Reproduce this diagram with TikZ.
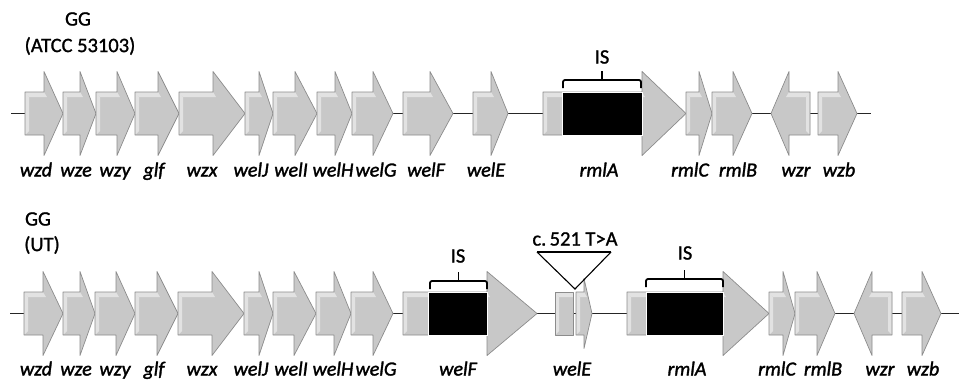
\documentclass[tikz,border=0pt]{standalone}
\usepackage{fontspec}
\setmainfont{Carlito}
\newfontfamily\genefont{Carlito}[ItalicFeatures={FakeBold=1.6}]
\newfontfamily\headfont{Carlito}[FakeBold=1.2]
\begin{document}
\begin{tikzpicture}[x=1pt,y=-1pt,
  genebody/.style={fill=genegray},
  genelight/.style={fill=genehi},
  geneedge/.style={draw=geneline,line width=0.7pt,line join=round},
  backbone/.style={draw=black!85,line width=1.4pt},
  genelabel/.style={font=\genefont\fontsize{20}{22}\selectfont\itshape,inner sep=0pt,anchor=base},
  headlabel/.style={font=\headfont\fontsize{20.5}{24}\selectfont,inner sep=0pt},
  bracketline/.style={draw=black,line width=1.8pt,rounded corners=2pt},
  insertbox/.style={fill=black,draw=white,line width=0.6pt}]
\definecolor{genegray}{HTML}{C8C8C8}
\definecolor{genehi}{HTML}{E2E2E2}
\definecolor{geneline}{HTML}{8C8C8C}
\def\geneB{21.5}
\def\geneH{42}
% forward gene: start, head base, tip, centre line
\newcommand\fgene[4]{%
  \fill[genebody] (#1,#4-\geneB) -- (#2,#4-\geneB) -- (#2,#4-\geneH) -- (#3,#4)
    -- (#2,#4+\geneH) -- (#2,#4+\geneB) -- (#1,#4+\geneB) -- cycle;
  \fill[genelight] (#1,#4-\geneB) -- (#2,#4-\geneB) -- (#2+3,#4-\geneB+5) -- (#1+4,#4-\geneB+5) -- cycle;
  \fill[genelight] (#1,#4-\geneB) -- (#1+4,#4-\geneB+5) -- (#1+4,#4+\geneB-4) -- (#1,#4+\geneB) -- cycle;
  \draw[geneedge] (#1,#4-\geneB) -- (#2,#4-\geneB) -- (#2,#4-\geneH) -- (#3,#4)
    -- (#2,#4+\geneH) -- (#2,#4+\geneB) -- (#1,#4+\geneB) -- cycle;}
% reverse gene: tip, head base, end, centre line
\newcommand\rgene[4]{%
  \fill[genebody] (#3,#4-\geneB) -- (#2,#4-\geneB) -- (#2,#4-\geneH) -- (#1,#4)
    -- (#2,#4+\geneH) -- (#2,#4+\geneB) -- (#3,#4+\geneB) -- cycle;
  \fill[genelight] (#3,#4-\geneB) -- (#2,#4-\geneB) -- (#2-3,#4-\geneB+5) -- (#3-4,#4-\geneB+5) -- cycle;
  \fill[genelight] (#3,#4-\geneB) -- (#3-4,#4-\geneB+5) -- (#3-4,#4+\geneB-4) -- (#3,#4+\geneB) -- cycle;
  \draw[geneedge] (#3,#4-\geneB) -- (#2,#4-\geneB) -- (#2,#4-\geneH) -- (#1,#4)
    -- (#2,#4+\geneH) -- (#2,#4+\geneB) -- (#3,#4+\geneB) -- cycle;}
% gene fragment without head
\newcommand\gbox[3]{%
  \fill[genebody] (#1,#3-\geneB) rectangle (#2,#3+\geneB);
  \fill[genelight] (#1,#3-\geneB) -- (#2,#3-\geneB) -- (#2,#3-\geneB+5) -- (#1+4,#3-\geneB+5) -- cycle;
  \fill[genelight] (#1,#3-\geneB) -- (#1+4,#3-\geneB+5) -- (#1+4,#3+\geneB-4) -- (#1,#3+\geneB) -- cycle;
  \draw[geneedge] (#1,#3-\geneB) rectangle (#2,#3+\geneB);}
% insertion bracket: left, right, foot y
\newcommand\isbracket[3]{%
  \draw[bracketline] (#1,#3) -- (#1,#3-8) -- (#2,#3-8) -- (#2,#3);
  \draw[black,line width=1.8pt] ({(#1+#2)/2},#3-8) -- ({(#1+#2)/2},#3-17);}

\useasboundingbox (0,0) rectangle (959,380);
\fill[white] (0,0) rectangle (959,380);

% ---------- strain ATCC 53103 ----------
\node[headlabel] (t1a) at (78,19) {GG};
\node[headlabel] (t1b) at (80,46) {(ATCC 53103)};
\coordinate (b1s) at (11,113.5);
\coordinate (b1e) at (871,113.5);
\draw[backbone] (b1s) -- (b1e);
\fgene{25}{44}{63}{113.5}
\fgene{63}{80}{96}{113.5}
\fgene{96}{117}{135}{113.5}
\fgene{135}{158}{179}{113.5}
\fgene{179}{213}{245}{113.5}
\fgene{245}{259}{273}{113.5}
\fgene{273}{295}{317}{113.5}
\fgene{317}{335}{352}{113.5}
\fgene{352}{373}{393}{113.5}
\fgene{403}{430}{453}{113.5}
\fgene{473}{491}{508}{113.5}
\fgene{543}{642}{686}{113.5}
\fill[insertbox] (562,92) rectangle (642,135);
\fgene{686}{699}{712}{113.5}
\fgene{712}{733}{752}{113.5}
\rgene{771}{789}{810}{113.5}
\fgene{818}{838}{857}{113.5}
\isbracket{563}{641}{88}
\node[headlabel] (is1) at (602,57) {IS};
\foreach \x/\g/\n in {36/wzd/a,76/wze/b,115/wzy/c,154/glf/d,202/wzx/e,251/welJ/f,291/welI/g,333/welH/h,376/welG/i,426/welF/j,486/welE/k,599/rmlA/l,690/rmlC/m,738/rmlB/n,796/wzr/o,839/wzb/p}
  \node[genelabel] (g1\n) at (\x,176.5) {\g};

% ---------- strain UT ----------
\node[headlabel] (t2a) at (38,219) {GG};
\node[headlabel] (t2b) at (42,245) {(UT)};
\coordinate (b2s) at (10,313.5);
\coordinate (b2e) at (959,313.5);
\draw[backbone] (b2s) -- (b2e);
\fgene{24}{43}{63}{313.5}
\fgene{63}{80}{95}{313.5}
\fgene{95}{116}{135}{313.5}
\fgene{135}{157}{178}{313.5}
\fgene{178}{212}{244}{313.5}
\fgene{244}{259}{273}{313.5}
\fgene{273}{294}{316}{313.5}
\fgene{316}{334}{351}{313.5}
\fgene{351}{373}{393}{313.5}
\fgene{403}{487}{537}{313.5}
\fill[insertbox] (428,292) rectangle (487,335);
\gbox{555}{573}{313.5}
\begingroup\def\geneH{35}\fgene{576}{584}{592}{313.5}\endgroup
\fgene{627}{723}{769}{313.5}
\fill[insertbox] (646,292) rectangle (723,335);
\fgene{769}{783}{795}{313.5}
\fgene{795}{817}{835}{313.5}
\rgene{854}{872}{892}{313.5}
\fgene{902}{922}{941}{313.5}
\isbracket{430}{487}{289}
\node[headlabel] (is2) at (458,256) {IS};
\isbracket{646}{723}{287}
\node[headlabel] (is3) at (685,253) {IS};
% point mutation marker
\coordinate (m1) at (537,252);
\coordinate (m2) at (611,252);
\coordinate (m3) at (575,289);
\draw[black,line width=1.1pt,line join=miter] (m1) -- (m3) -- (m2);
\draw[black,line width=1.1pt] (m1) -- (m2);
\node[headlabel] (mut) at (575,239) {c.\,521 T>A};
\foreach \x/\g/\n in {36/wzd/a,76/wze/b,115/wzy/c,154/glf/d,202/wzx/e,251/welJ/f,291/welI/g,333/welH/h,376/welG/i,458/welF/j,572/welE/k,687/rmlA/l,777/rmlC/m,823/rmlB/n,880/wzr/o,923/wzb/p}
  \node[genelabel] (g2\n) at (\x,375.5) {\g};
\end{tikzpicture}
\end{document}
